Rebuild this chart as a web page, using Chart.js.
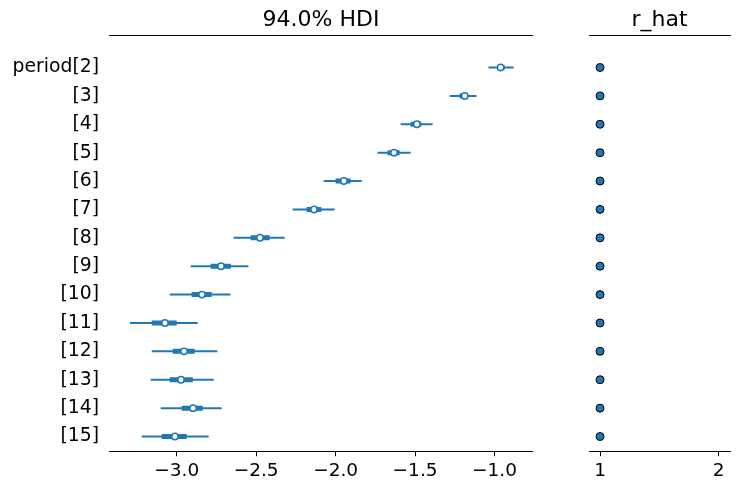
<!DOCTYPE html>
<html lang="en">
<head>
    <meta charset="UTF-8">
    <title>Forest plot</title>
    <script src="https://cdn.jsdelivr.net/npm/chart.js"></script>
    <style>
        body { margin: 0; background: #fff; }
        #wrap { position: relative; width: 739px; height: 490px; }
        canvas { position: absolute; top: 0; }
    </style>
</head>
<body>
    <div id="wrap">
        <canvas id="hdiChart" width="533" height="490" style="left:0"></canvas>
        <canvas id="rhatChart" width="179" height="490" style="left:560px"></canvas>
    </div>
    <script>
        const labels = ['period[2]', '[3]', '[4]', '[5]', '[6]', '[7]', '[8]', '[9]', '[10]', '[11]', '[12]', '[13]', '[14]', '[15]'];
        const median = [-0.962, -1.187, -1.489, -1.633, -1.948, -2.136, -2.476, -2.721, -2.841, -3.074, -2.954, -2.973, -2.897, -3.011];
        const hdiLow = [-1.038, -1.283, -1.591, -1.736, -2.075, -2.270, -2.642, -2.912, -3.044, -3.294, -3.157, -3.164, -3.101, -3.220];
        const hdiHigh = [-0.880, -1.113, -1.390, -1.528, -1.836, -2.006, -2.321, -2.549, -2.662, -2.868, -2.744, -2.767, -2.717, -2.799];
        const q25 = [-0.984, -1.220, -1.528, -1.673, -2.000, -2.182, -2.535, -2.786, -2.906, -3.157, -3.025, -3.044, -2.969, -3.094];
        const q75 = [-0.937, -1.170, -1.461, -1.597, -1.906, -2.090, -2.415, -2.660, -2.780, -3.000, -2.887, -2.899, -2.836, -2.937];
        const rHat = [1.00, 1.00, 1.00, 1.00, 1.00, 1.00, 1.00, 1.00, 1.00, 1.00, 1.00, 1.00, 1.00, 1.00];
        const hdiTicks = [-3.0, -2.5, -2.0, -1.5, -1.0];
        const rhatTicks = [1, 2];

        const blue = '#1f77b4';
        Chart.defaults.font.family = 'DejaVu Sans';
        Chart.defaults.color = '#000';
        Chart.defaults.animation = false;

        const rowMin = -1.145, rowMax = 13.535;

        function yScale(showLabels) {
            return {
                type: 'linear', reverse: true, min: rowMin, max: rowMax,
                offset: false,
                grid: { display: false, drawTicks: false, offset: false },
                border: { display: false },
                afterBuildTicks: s => { s.ticks = labels.map((_, i) => ({ value: i })); },
                afterFit: s => {
                    s.width = showLabels ? 109 : 29;
                    s.paddingTop = 0; s.paddingBottom = 0;
                },
                ticks: {
                    display: showLabels, padding: 10, font: { size: 18.8 },
                    callback: v => labels[v]
                }
            };
        }

        function bottomX(min, max, tickVals, fmt) {
            return {
                type: 'linear', position: 'bottom', min: min, max: max,
                offset: false,
                afterBuildTicks: s => { s.ticks = tickVals.map(v => ({ value: v })); },
                afterFit: s => {
                    s.height = 38.3;
                    s.paddingLeft = 0; s.paddingRight = 0;
                },
                grid: { drawOnChartArea: false, drawTicks: true, tickLength: 4.5, color: '#000', lineWidth: 1, offset: false },
                border: { display: true, color: '#000', width: 1 },
                ticks: { font: { size: 18.5 }, padding: 4, maxRotation: 0, callback: fmt }
            };
        }

        function topX(min, max, title) {
            return {
                type: 'linear', position: 'top', min: min, max: max,
                offset: false,
                afterFit: s => {
                    s.height = 35;
                    s.paddingLeft = 0; s.paddingRight = 0;
                },
                grid: { display: false, offset: false },
                border: { display: true, color: '#000', width: 1 },
                ticks: { display: false },
                title: { display: true, text: title, font: { size: 22 }, padding: { top: 7, bottom: 0 } }
            };
        }

        const fmtDec = v => (v < 0 ? '\u2212' : '') + Math.abs(v).toFixed(1);

        new Chart(document.getElementById('hdiChart'), {
            type: 'bar',
            data: {
                datasets: [
                    {
                        type: 'scatter', label: 'median', order: 0,
                        data: median.map((m, i) => ({ x: m, y: i })),
                        pointRadius: 3.2, pointBorderWidth: 1.5,
                        pointBackgroundColor: '#fff', pointBorderColor: blue
                    },
                    {
                        label: '50%', order: 1, indexAxis: 'y', grouped: false,
                        data: q25.map((lo, i) => ({ x: [lo, q75[i]], y: i })),
                        backgroundColor: blue, borderWidth: 0, maxBarThickness: 5
                    },
                    {
                        label: '94% HDI', order: 2, indexAxis: 'y', grouped: false,
                        data: hdiLow.map((lo, i) => ({ x: [lo, hdiHigh[i]], y: i })),
                        backgroundColor: blue, borderWidth: 0, maxBarThickness: 2
                    }
                ]
            },
            options: {
                responsive: false,
                layout: { padding: 0, autoPadding: false },
                plugins: { legend: { display: false }, tooltip: { enabled: false } },
                scales: {
                    x: bottomX(-3.426, -0.758, hdiTicks, fmtDec),
                    x2: topX(-3.426, -0.758, '94.0% HDI'),
                    y: yScale(true)
                }
            }
        });

        new Chart(document.getElementById('rhatChart'), {
            type: 'scatter',
            data: {
                datasets: [{
                    label: 'r_hat',
                    data: rHat.map((r, i) => ({ x: r, y: i })),
                    pointRadius: 4, pointBorderWidth: 1,
                    pointBackgroundColor: blue, pointBorderColor: '#000'
                }]
            },
            options: {
                responsive: false,
                layout: { padding: { left: 0, right: 9, top: 0, bottom: 0 }, autoPadding: false },
                plugins: { legend: { display: false }, tooltip: { enabled: false } },
                scales: {
                    x: bottomX(0.907, 2.095, rhatTicks, v => String(v)),
                    x2: topX(0.907, 2.095, 'r_hat'),
                    y: yScale(false)
                }
            }
        });
    </script>
</body>
</html>
